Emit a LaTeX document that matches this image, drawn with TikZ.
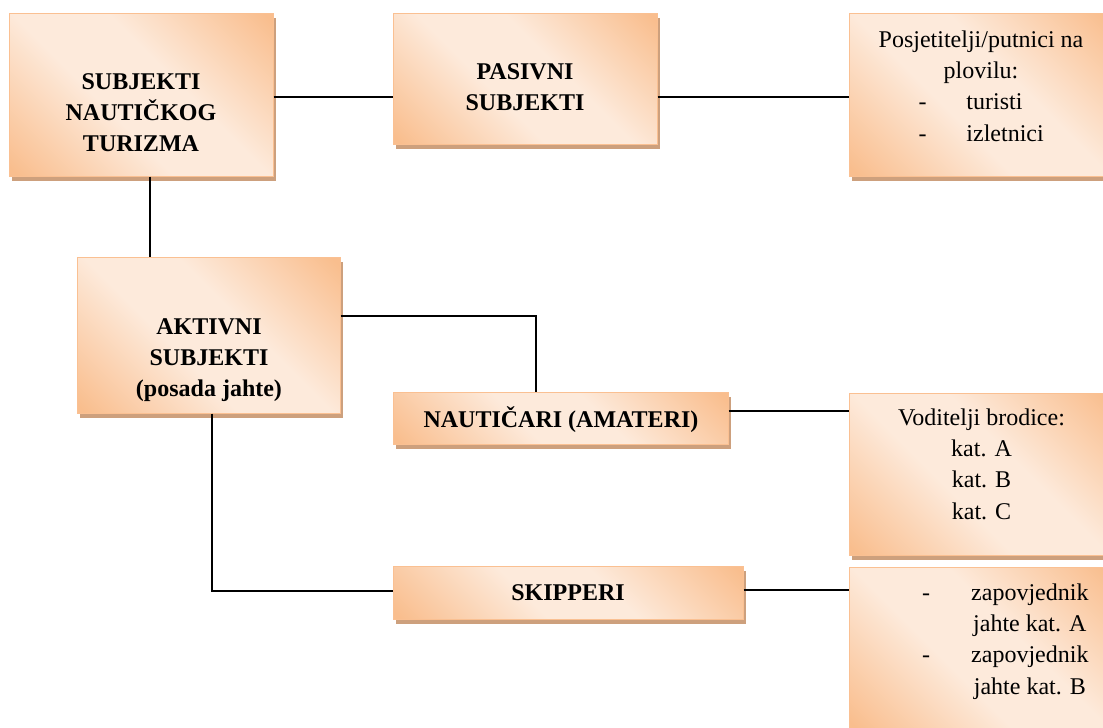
\documentclass[tikz,border=0pt]{standalone}
\usepackage{fontspec}
\setmainfont{Liberation Serif}
\usetikzlibrary{shadows}
\definecolor{orc}{RGB}{249,190,142}
\definecolor{ltc}{RGB}{253,234,219}
\definecolor{bordc}{RGB}{250,192,146}
\definecolor{shadc}{RGB}{205,160,125}
\pgfdeclarehorizontalshading{boxshade}{100bp}{color(0bp)=(orc); color(16bp)=(orc); color(42bp)=(ltc); color(58bp)=(ltc); color(84bp)=(orc); color(100bp)=(orc)}
\begin{document}
\begin{tikzpicture}[x=1pt,y=-1pt,
  box/.style={rectangle, draw=bordc, line width=1pt, shading=boxshade, shading angle=45, inner sep=0pt,
    drop shadow={shadow xshift=3pt, shadow yshift=-5pt, fill=shadc, opacity=1}},
  txt/.style={font=\fontsize{24}{31.4}\selectfont, inner sep=0pt, anchor=base},
  btxt/.style={txt, font=\fontsize{24}{31.4}\selectfont\bfseries},
  conn/.style={draw=black, line width=1.5pt}]
\useasboundingbox (0,0) rectangle (1103,728);
\clip (0,0) rectangle (1103,728);
% boxes
\node[box, minimum width=264pt, minimum height=163pt] (b1) at (141,94.5) {};
\node[box, minimum width=264pt, minimum height=131pt] (b2) at (525,78.5) {};
\node[box, minimum width=264pt, minimum height=163pt] (b3) at (981,94.5) {};
\node[box, minimum width=263pt, minimum height=156pt] (b4) at (208.5,335) {};
\node[box, minimum width=335pt, minimum height=52pt] (b5) at (560.5,418) {};
\node[box, minimum width=264pt, minimum height=162pt] (b6) at (981,474) {};
\node[box, minimum width=350pt, minimum height=53pt] (b7) at (568,592.5) {};
\node[box, minimum width=264pt, minimum height=163pt] (b8) at (981,648.5) {};
% texts
\node[btxt] (t1) at (141,89) {\begin{tabular}[t]{@{}c@{}}SUBJEKTI\\NAUTIČKOG\\TURIZMA\end{tabular}};
\node[btxt] (t2) at (525,79) {\begin{tabular}[t]{@{}c@{}}PASIVNI\\SUBJEKTI\end{tabular}};
\node[txt] (t3) at (981,47) {\begin{tabular}[t]{@{}c@{}}Posjetitelji/putnici na\\plovilu:\\
  \makebox[125pt][l]{\makebox[48pt][l]{-}turisti}\\
  \makebox[125pt][l]{\makebox[48pt][l]{-}izletnici}\end{tabular}};
\node[btxt] (t4) at (209,334) {\begin{tabular}[t]{@{}c@{}}AKTIVNI\\SUBJEKTI\\(posada jahte)\end{tabular}};
\node[btxt] (t5) at (561,427) {NAUTIČARI (AMATERI)};
\node[txt] (t6) at (981.5,425) {\begin{tabular}[t]{@{}c@{}}Voditelji brodice:\\kat. A\\kat. B\\kat. C\end{tabular}};
\node[btxt] (t7) at (568,600) {SKIPPERI};
\node[txt, anchor=base west] (t8) at (922,600) {\begin{tabular}[t]{@{}l@{\hspace{41pt}}c@{}}-&zapovjednik\\&jahte kat. A\\-&zapovjednik\\&jahte kat. B\end{tabular}};
% connectors
\draw[conn] ([yshift=-2.5pt]b1.east) -- ([yshift=-2.5pt]b1.east -| b2.west);
\draw[conn] ([yshift=-2.5pt]b3.west -| b2.east) -- ([yshift=-2.5pt]b3.west);
\draw[conn] ([xshift=9pt]b1.south) -- ([xshift=9pt]b1.south |- b4.north);
\draw[conn] ([yshift=19pt]b4.east) -| ([xshift=-24.5pt]b5.north);
\draw[conn] ([yshift=7pt]b5.east) -- ([yshift=7pt]b5.east -| b6.west);
\draw[conn] ([xshift=3.5pt]b4.south) |- ([yshift=1.5pt]b7.west);
\draw[conn] ([yshift=2.5pt]b7.east) -- ([yshift=2.5pt]b7.east -| b8.west);
\end{tikzpicture}
\end{document}
